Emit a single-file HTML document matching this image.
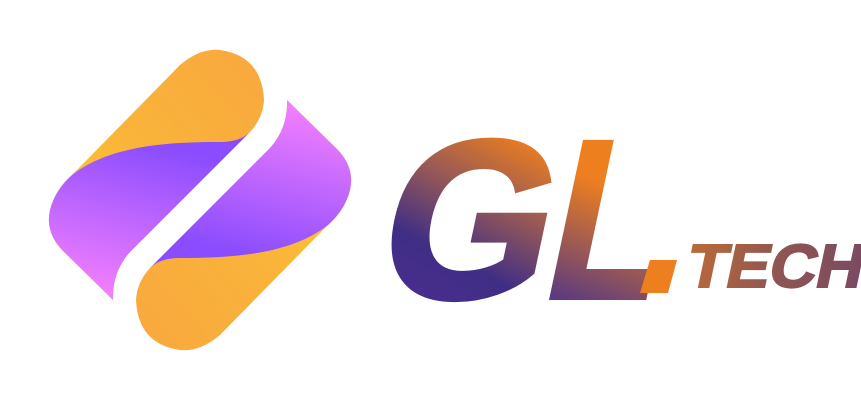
<!DOCTYPE html>
<html><head><meta charset="utf-8"><style>
html,body{margin:0;padding:0;background:#fff;}
svg{display:block;}
</style></head><body>
<svg width="861" height="401" viewBox="0 0 861 401">
<defs>
<linearGradient id="og" x1="0" y1="1" x2="1" y2="0">
<stop offset="0" stop-color="#fbd92c"/><stop offset="0.5" stop-color="#f9b43a"/><stop offset="1" stop-color="#f9a83e"/>
</linearGradient>
<linearGradient id="pg" x1="0.3" y1="0" x2="0" y2="1">
<stop offset="0" stop-color="#8a4cfe"/><stop offset="1" stop-color="#ff85ff"/>
</linearGradient>
<linearGradient id="tg" gradientUnits="userSpaceOnUse" x1="400" y1="300" x2="480" y2="130">
<stop offset="0" stop-color="#4a2d8f"/><stop offset="0.3" stop-color="#3f2e85"/><stop offset="0.65" stop-color="#9a5a55"/><stop offset="1" stop-color="#ee7f1e"/>
</linearGradient>
<linearGradient id="lg" gradientUnits="userSpaceOnUse" x1="560" y1="300" x2="600" y2="190">
<stop offset="0" stop-color="#5a3a80"/><stop offset="1" stop-color="#ee7f1e"/>
</linearGradient>
<linearGradient id="th" gradientUnits="userSpaceOnUse" x1="690" y1="260" x2="860" y2="260">
<stop offset="0" stop-color="#b8693a"/><stop offset="0.5" stop-color="#8e5552"/><stop offset="1" stop-color="#7a4a62"/>
</linearGradient>
</defs>
<g>
<g>
<path d="M113,300 L62,250 Q45,232 50,210 Q55,190 72,175 L180,65 Q200,48 220,50 Q262,56 264,100 Q263,118 250,132 L130,252 Q112,272 113,300 Z" fill="url(#og)"/>
<path d="M113,300 L62,250 Q45,232 50,210 Q55,190 72,175 C110,145 170,142 220,142 Q240,142 250,132 L130,252 Q112,272 113,300 Z" fill="url(#pg)"/>
</g>
<g transform="rotate(180 200 200)">
<path d="M113,300 L62,250 Q45,232 50,210 Q55,190 72,175 L180,65 Q200,48 220,50 Q262,56 264,100 Q263,118 250,132 L130,252 Q112,272 113,300 Z" fill="url(#og)"/>
<path d="M113,300 L62,250 Q45,232 50,210 Q55,190 72,175 C110,145 170,142 220,142 Q240,142 250,132 L130,252 Q112,272 113,300 Z" fill="url(#pg)"/>
</g>
</g>
<g transform="translate(0,297) skewX(-12) translate(0,-297)">
<text x="372" y="297" font-family="Liberation Sans, sans-serif" font-weight="bold" font-size="224" textLength="168" lengthAdjust="spacingAndGlyphs" fill="url(#tg)" stroke="url(#tg)" stroke-width="6">G</text>
<text x="540" y="297" font-family="Liberation Sans, sans-serif" font-weight="bold" font-size="224" textLength="110" lengthAdjust="spacingAndGlyphs" fill="url(#lg)" stroke="url(#lg)" stroke-width="6">L</text>
</g>
<polygon points="650,260 677,260 668,293 640,293" fill="#ee7f1e"/>
<g transform="translate(0,287) skewX(-12) translate(0,-287)">
<text x="684" y="287" font-family="Liberation Sans, sans-serif" font-weight="bold" font-size="61" textLength="176" lengthAdjust="spacingAndGlyphs" fill="url(#th)" stroke="url(#th)" stroke-width="2">TECH</text>
</g>
</svg>
</body></html>
